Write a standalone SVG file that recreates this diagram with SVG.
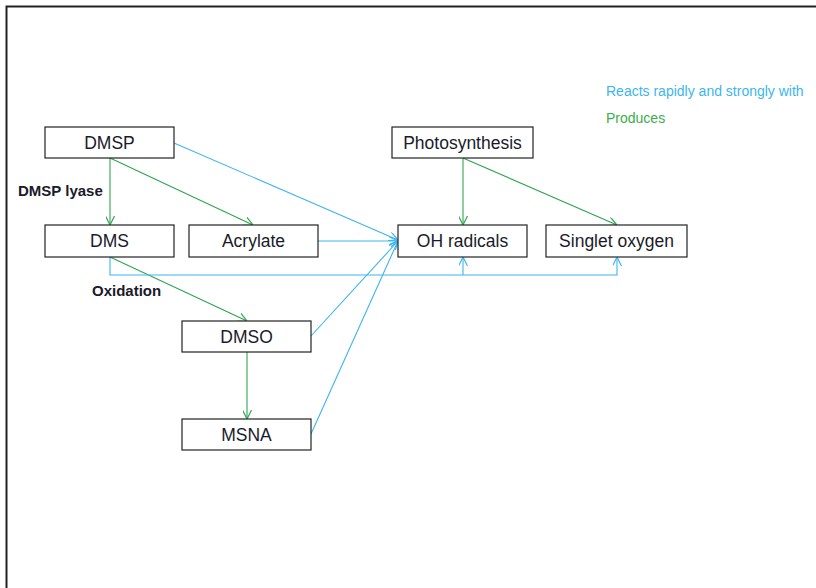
<svg xmlns="http://www.w3.org/2000/svg" width="816" height="588" viewBox="0 0 816 588">
<style>
.box{fill:#fff;stroke:#222;stroke-width:1.2}
.lbl{font-family:"Liberation Sans",Arial,sans-serif;font-size:17.5px;fill:#1a1a2a;text-anchor:middle}
.note{font-family:"Liberation Sans",Arial,sans-serif;font-size:15px;font-weight:bold;fill:#1a1a2a}
.leg{font-family:"Liberation Sans",Arial,sans-serif;font-size:14px}
.g{fill:none;stroke:#2ea44f;stroke-width:1.1}
.b{fill:none;stroke:#3db5ef;stroke-width:1.1}
</style>
<defs>
<marker id="ag" viewBox="0 0 10 10" refX="10" refY="5" markerWidth="9" markerHeight="9" markerUnits="userSpaceOnUse" orient="auto"><path d="M0,0 L10,5 L0,10" fill="none" stroke="#2ea44f" stroke-width="1.3"/></marker>
<marker id="ab" viewBox="0 0 10 10" refX="10" refY="5" markerWidth="9" markerHeight="9" markerUnits="userSpaceOnUse" orient="auto"><path d="M0,0 L10,5 L0,10" fill="none" stroke="#3db5ef" stroke-width="1.3"/></marker>
</defs>
<rect width="816" height="588" fill="#fff"/>
<path d="M6.5,588 V6.5 H816" fill="none" stroke="#222" stroke-width="2"/>
<g id="connectors">
<path class="g" d="M110,158 V225" marker-end="url(#ag)"/>
<path class="g" d="M110,158 L253,225" marker-end="url(#ag)"/>
<path class="g" d="M110,257 L247,321" marker-end="url(#ag)"/>
<path class="g" d="M247,352 V419" marker-end="url(#ag)"/>
<path class="g" d="M463,158 V225" marker-end="url(#ag)"/>
<path class="g" d="M463,158 L617,225" marker-end="url(#ag)"/>
<path class="b" d="M174,143 L398,240" marker-end="url(#ab)"/>
<path class="b" d="M318,241 H398" marker-end="url(#ab)"/>
<path class="b" d="M311,336 L398,241" marker-end="url(#ab)"/>
<path class="b" d="M311,434 L398,241" marker-end="url(#ab)"/>
<path class="b" d="M110,257 V275 H617 V257" marker-end="url(#ab)"/>
<path class="b" d="M463,275 V257" marker-end="url(#ab)"/>
</g>
<g id="DMSP"><rect class="box" x="45" y="127" width="129" height="31"/><text class="lbl" x="109.5" y="148.5">DMSP</text></g>
<g id="DMS"><rect class="box" x="45" y="225" width="129" height="32"/><text class="lbl" x="109.5" y="247">DMS</text></g>
<g id="Acrylate"><rect class="box" x="189" y="225" width="129" height="32"/><text class="lbl" x="253.5" y="247">Acrylate</text></g>
<g id="DMSO"><rect class="box" x="182" y="321" width="129" height="31"/><text class="lbl" x="246.5" y="342.5">DMSO</text></g>
<g id="MSNA"><rect class="box" x="182" y="419" width="129" height="31"/><text class="lbl" x="246.5" y="440.5">MSNA</text></g>
<g id="Photosynthesis"><rect class="box" x="392" y="127" width="141" height="31"/><text class="lbl" x="462.5" y="148.5">Photosynthesis</text></g>
<g id="OHradicals"><rect class="box" x="398" y="225" width="129" height="32"/><text class="lbl" x="462.5" y="247">OH radicals</text></g>
<g id="Singletoxygen"><rect class="box" x="546" y="225" width="141" height="32"/><text class="lbl" x="616.5" y="247">Singlet oxygen</text></g>
<g id="labels">
<text class="note" x="18" y="196">DMSP lyase</text>
<text class="note" x="92" y="296">Oxidation</text>
<text class="leg" x="606" y="96" fill="#3db5ef">Reacts rapidly and strongly with</text>
<text class="leg" x="606" y="123" fill="#3aae4a">Produces</text>
</g>
</svg>
